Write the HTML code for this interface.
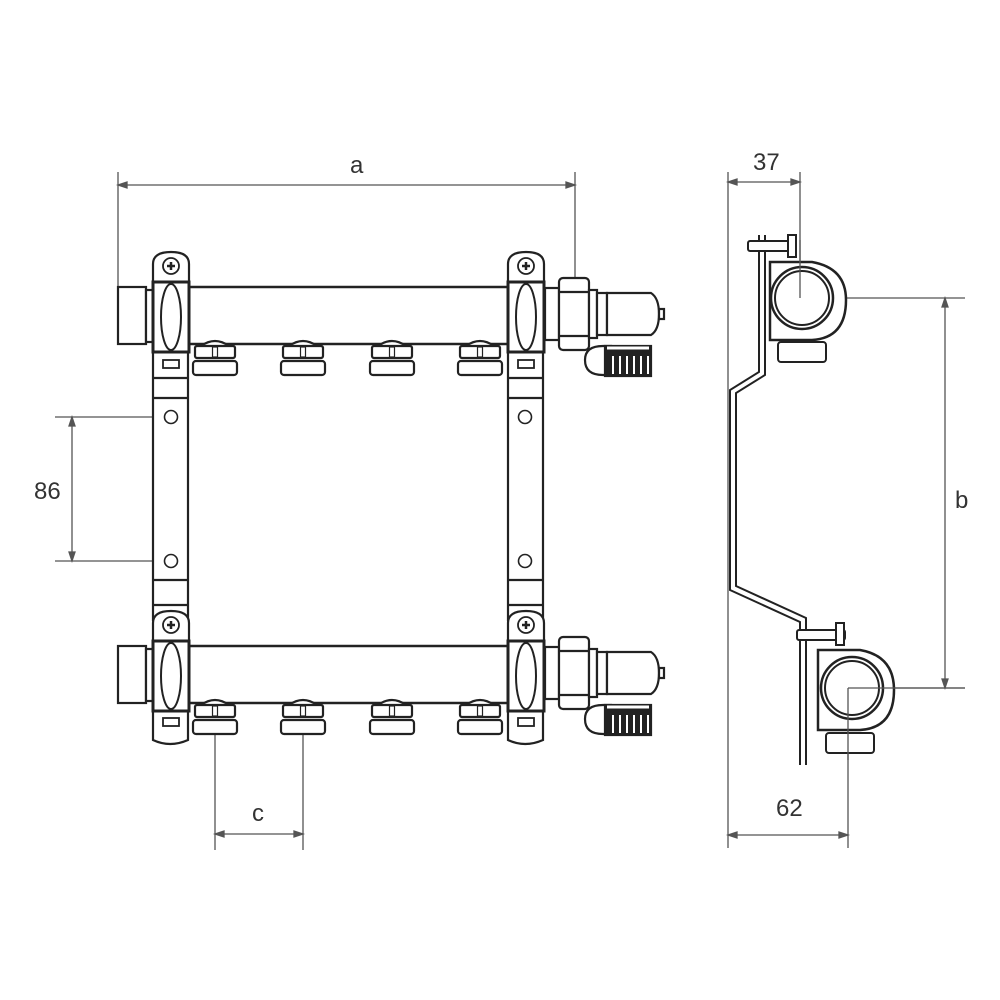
<!DOCTYPE html>
<html><head><meta charset="utf-8"><style>
html,body{margin:0;padding:0;background:#fff;}
svg{display:block;}
text{font-family:"Liberation Sans",sans-serif;font-size:24px;fill:#333;}
</style></head><body>
<svg width="1000" height="1000" viewBox="0 0 1000 1000" xmlns="http://www.w3.org/2000/svg">
<defs>
<g id="cap" fill="#fff" stroke="#222" stroke-width="2.2">
  <path d="M-14,0 Q0,-10 14,0"/>
  <rect x="-20" y="0" width="40" height="12" rx="2"/>
  <rect x="-22" y="15" width="44" height="14" rx="3"/>
  <rect x="-2.5" y="1" width="5" height="10" stroke-width="1.2"/>
</g>
<g id="bracketTop" fill="#fff" stroke="#222" stroke-width="2.2">
  <path d="M0,30 L0,12 Q0,0 18,0 Q36,0 36,12 L36,30 Z"/>
  <circle cx="18" cy="14" r="8" stroke-width="1.8"/>
  <path d="M14,14 h8 M18,10 v8" stroke-width="2.5"/>
  <rect x="0" y="30" width="36" height="70" stroke-width="3"/>
  <ellipse cx="18" cy="65" rx="10" ry="33" stroke-width="2"/>
</g>
<g id="fitting" fill="#fff" stroke="#222" stroke-width="2.2">
  <rect x="0" y="10" width="14" height="52"/>
  <rect x="14" y="0" width="30" height="72" rx="4"/>
  <line x1="14" y1="14" x2="44" y2="14"/><line x1="14" y1="58" x2="44" y2="58"/>
  <rect x="44" y="12" width="8" height="48"/>
  <rect x="52" y="15" width="10" height="42"/>
  <path d="M62,15 L106,15 Q114,20 114,36 Q114,52 106,57 L62,57 Z"/>
  <rect x="114" y="31" width="5" height="10"/>
  <path d="M58,68 Q40,68 40,82 Q40,97 58,97 L66,97 L66,68 Z"/>
  <rect x="60" y="68" width="46" height="30" fill="#222"/>
  <g stroke="#fff" stroke-width="2">
    <line x1="68" y1="78" x2="68" y2="96"/><line x1="75" y1="78" x2="75" y2="96"/><line x1="82" y1="78" x2="82" y2="96"/><line x1="89" y1="78" x2="89" y2="96"/><line x1="96" y1="78" x2="96" y2="96"/><line x1="103" y1="78" x2="103" y2="96"/>
  </g>
  <path d="M62,70 L104,70" stroke="#fff" stroke-width="3"/>
</g>
</defs>

<!-- dimension a -->
<g stroke="#555" stroke-width="1.3" fill="none">
  <line x1="118" y1="172" x2="118" y2="290"/>
  <line x1="575" y1="172" x2="575" y2="282"/>
  <line x1="118" y1="185" x2="575" y2="185"/>
  <path d="M118,185 l9,-3 v6 z M575,185 l-9,-3 v6 z" fill="#555"/>
  <!-- 86 -->
  <line x1="55" y1="417" x2="165" y2="417"/>
  <line x1="55" y1="561" x2="165" y2="561"/>
  <line x1="72" y1="417" x2="72" y2="561"/>
  <path d="M72,417 l-3,9 h6 z M72,561 l-3,-9 h6 z" fill="#555"/>
  <!-- c -->
  <line x1="215" y1="720" x2="215" y2="850"/>
  <line x1="303" y1="720" x2="303" y2="850"/>
  <line x1="215" y1="834" x2="303" y2="834"/>
  <path d="M215,834 l9,-3 v6 z M303,834 l-9,-3 v6 z" fill="#555"/>
</g>
<text x="350" y="173">a</text>
<text x="34" y="499">86</text>
<text x="252" y="821">c</text>

<!-- strips -->
<g fill="#fff" stroke="#222" stroke-width="2.2">
  <rect x="153" y="345" width="35" height="275"/>
  <rect x="508" y="345" width="35" height="275"/>
  <path d="M153,378 h35 M153,398 h35 M153,580 h35 M153,605 h35 M508,378 h35 M508,398 h35 M508,580 h35 M508,605 h35"/>
  <circle cx="171" cy="417" r="6.5" stroke-width="1.6"/>
  <circle cx="171" cy="561" r="6.5" stroke-width="1.6"/>
  <circle cx="525" cy="417" r="6.5" stroke-width="1.6"/>
  <circle cx="525" cy="561" r="6.5" stroke-width="1.6"/>
  <!-- lower bracket ends -->
  <path d="M153,700 L153,740 Q170,748 188,740 L188,700"/>
  <path d="M508,700 L508,740 Q525,748 543,740 L543,700"/>
  <rect x="163" y="360" width="16" height="8" stroke-width="1.8"/>
  <rect x="518" y="360" width="16" height="8" stroke-width="1.8"/>
  <rect x="163" y="718" width="16" height="8" stroke-width="1.8"/>
  <rect x="518" y="718" width="16" height="8" stroke-width="1.8"/>
</g>

<!-- manifolds -->
<g id="man">
  <g fill="#fff" stroke="#222" stroke-width="2.2">
    <rect x="118" y="287" width="28" height="57"/>
    <rect x="146" y="290" width="8" height="52"/>
    <line x1="188" y1="287" x2="508" y2="287" stroke-width="2.5"/>
    <line x1="188" y1="344" x2="508" y2="344" stroke-width="2.5"/>
  </g>
  <use href="#cap" x="215" y="346"/>
  <use href="#cap" x="303" y="346"/>
  <use href="#cap" x="392" y="346"/>
  <use href="#cap" x="480" y="346"/>
  <use href="#bracketTop" x="153" y="252"/>
  <use href="#bracketTop" x="508" y="252"/>
  <use href="#fitting" x="545" y="278"/>
</g>
<use href="#man" x="0" y="359"/>

<!-- side view -->
<g stroke="#555" stroke-width="1.3" fill="none">
  <line x1="728" y1="172" x2="728" y2="848"/>
  <line x1="800" y1="172" x2="800" y2="298"/>
  <line x1="728" y1="182" x2="800" y2="182"/>
  <path d="M728,182 l9,-3 v6 z M800,182 l-9,-3 v6 z" fill="#555"/>
  <line x1="800" y1="298" x2="965" y2="298"/>
  <line x1="848" y1="688" x2="965" y2="688"/>
  <line x1="945" y1="298" x2="945" y2="688"/>
  <path d="M945,298 l-3,9 h6 z M945,688 l-3,-9 h6 z" fill="#555"/>
  <line x1="848" y1="688" x2="848" y2="848"/>
  <line x1="728" y1="835" x2="848" y2="835"/>
  <path d="M728,835 l9,-3 v6 z M848,835 l-9,-3 v6 z" fill="#555"/>
</g>
<text x="753" y="170">37</text>
<text x="955" y="508">b</text>
<text x="776" y="816">62</text>

<g fill="none" stroke="#222" stroke-width="2">
  <!-- bracket -->
  <path d="M759,235 L759,372 L730,390 L730,590 L800,622 L800,765"/>
  <path d="M765,235 L765,375 L736,393 L736,586 L806,618 L806,765"/>
  <!-- upper pipe -->
  <g fill="#fff">
    <rect x="748" y="241" width="48" height="10" rx="2"/>
    <rect x="788" y="235" width="8" height="22"/>
    <path d="M770,262 L812,262 Q846,268 846,300 Q846,338 812,340 L770,340 Z" stroke-width="2.5"/>
    <circle cx="802" cy="298" r="31" stroke-width="2.5"/>
    <circle cx="802" cy="298" r="27"/>
    <rect x="778" y="342" width="48" height="20" rx="3"/>
  </g>
  <line x1="800" y1="298" x2="800" y2="240" stroke="#555" stroke-width="1.3"/>
  <!-- lower pipe -->
  <g fill="#fff">
    <rect x="797" y="630" width="48" height="10" rx="2"/>
    <rect x="836" y="623" width="8" height="22"/>
    <path d="M818,650 L860,650 Q894,656 894,690 Q894,728 860,730 L818,730 Z" stroke-width="2.5"/>
    <circle cx="852" cy="688" r="31" stroke-width="2.5"/>
    <circle cx="852" cy="688" r="27"/>
    <rect x="826" y="733" width="48" height="20" rx="3"/>
  </g>
  <line x1="848" y1="688" x2="965" y2="688" stroke="#555" stroke-width="1.3"/>
  <line x1="848" y1="688" x2="848" y2="760" stroke="#555" stroke-width="1.3"/>
</g>
</svg>
</body></html>
